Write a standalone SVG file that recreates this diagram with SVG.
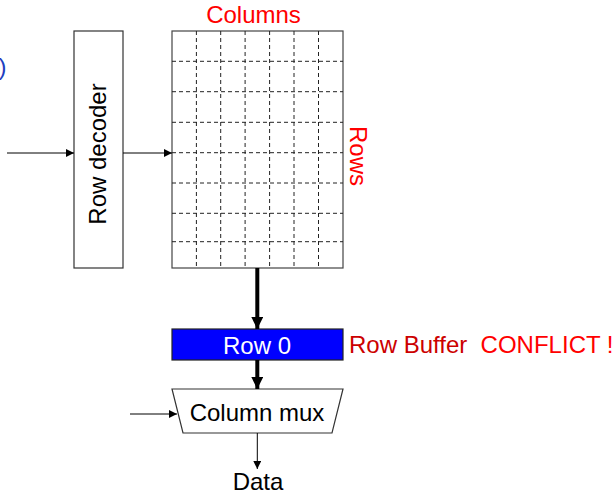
<svg xmlns="http://www.w3.org/2000/svg" width="616" height="494" viewBox="0 0 616 494">
  <style>
    text { font-family: "Liberation Sans", Arial, sans-serif; font-size: 24px; }
    .box { fill: #ffffff; stroke: #333333; stroke-width: 1.2; }
    .grid { stroke: #222222; stroke-width: 1; stroke-dasharray: 4 3; fill: none; }
    .thin { stroke: #000000; stroke-width: 1; fill: none; }
    .thick { stroke: #000000; stroke-width: 4; fill: none; }
    .red { fill: #ff0000; }
  </style>
  <defs>
    <marker id="head" viewBox="0 0 10 10" refX="10" refY="5" markerWidth="9" markerHeight="8" markerUnits="userSpaceOnUse" orient="auto">
      <path d="M0,0 L10,5 L0,10 Z" fill="#000000"/>
    </marker>
    <marker id="headBig" viewBox="0 0 10 10" refX="10" refY="5" markerWidth="12" markerHeight="12" markerUnits="userSpaceOnUse" orient="auto">
      <path d="M0,0 L10,5 L0,10 Z" fill="#000000"/>
    </marker>
  </defs>

  <!-- partial label at the left edge -->
  <text x="-1.5" y="75" fill="#1f3fbf">)</text>

  <!-- row decoder -->
  <g id="row-decoder">
    <rect class="box" x="74" y="31" width="49" height="237"/>
    <text transform="translate(106,154) rotate(-90)" text-anchor="middle" fill="#000000">Row decoder</text>
  </g>

  <!-- memory array -->
  <g id="array">
    <rect x="172" y="31" width="171" height="237" fill="#ffffff" stroke="#444444" stroke-width="1.2"/>
    <path class="grid" d="M196.4,31V268 M220.7,31V268 M245.1,31V268 M269.6,31V268 M294,31V268 M318.5,31V268"/>
    <path class="grid" d="M172,61.3H343 M172,91.7H343 M172,122.3H343 M172,152.7H343 M172,183H343 M172,213.3H343 M172,241.7H343"/>
    <text class="red" x="253.5" y="23" text-anchor="middle">Columns</text>
    <text class="red" transform="translate(350,156) rotate(90)" text-anchor="middle">Rows</text>
  </g>

  <!-- row buffer -->
  <g id="row-buffer">
    <rect x="172" y="329" width="171" height="31" fill="#0000ff" stroke="#222222" stroke-width="1.2"/>
    <text x="257" y="354" text-anchor="middle" fill="#ffffff">Row 0</text>
    <text x="349" y="353" xml:space="preserve"><tspan fill="#cc0000">Row Buffer</tspan><tspan fill="#ff0000">  CONFLICT !</tspan></text>
  </g>

  <!-- column multiplexer -->
  <g id="column-mux">
    <path d="M172,389 L343,389 L332,433 L183,433 Z" fill="#ffffff" stroke="#333333" stroke-width="1.2"/>
    <text x="257" y="421" text-anchor="middle" fill="#000000">Column mux</text>
  </g>

  <!-- output label -->
  <g id="data">
    <text x="258" y="490" text-anchor="middle" fill="#000000">Data</text>
  </g>

  <!-- connectors -->
  <g id="connectors">
    <line class="thin" x1="7" y1="153" x2="74" y2="153" marker-end="url(#head)"/>
    <line class="thin" x1="123" y1="153" x2="172" y2="153" marker-end="url(#head)"/>
    <line class="thin" x1="130" y1="414" x2="177" y2="414" marker-end="url(#head)"/>
    <line class="thin" x1="257.3" y1="433" x2="257.3" y2="469" marker-end="url(#head)"/>
    <line class="thick" x1="257.3" y1="268" x2="257.3" y2="329" marker-end="url(#headBig)"/>
    <line class="thick" x1="257.3" y1="360" x2="257.3" y2="389" marker-end="url(#headBig)"/>
  </g>
</svg>
